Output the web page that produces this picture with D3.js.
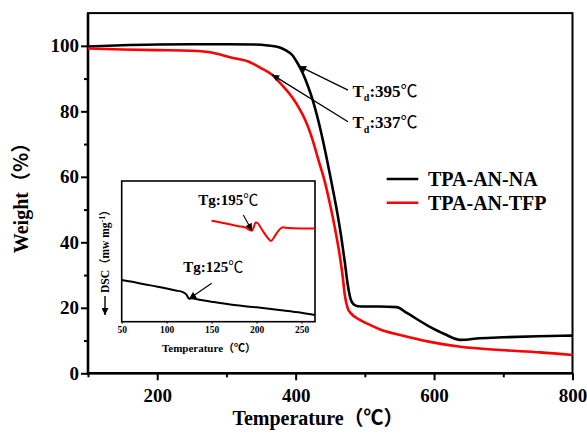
<!DOCTYPE html>
<html>
<head>
<meta charset="utf-8">
<script src="https://cdn.jsdelivr.net/npm/d3@7"></script>
<style>
  html, body { margin: 0; padding: 0; background: #fff; }
  svg { display: block; }
  text { font-family: "Liberation Serif", "Times New Roman", serif; font-weight: bold; fill: #000; }
  .cjk { font-family: "Noto Sans CJK SC", "Liberation Serif", serif; }
</style>
</head>
<body>
<svg id="chart" width="587" height="437"></svg>
<script>
// TGA curves: temperature (°C) and remaining weight (%)
const tempNA = [100,150,200,250,300,340,360,377,386,395,402,410,418,425,431,437,443,449,455,461,466,471,475,479,484,490,500,520,546,560,594,615,638,666,700,750,800];
const weightNA = [99.8,100.2,100.4,100.5,100.5,100.4,100.1,99.5,98.6,97.2,95.0,91.8,87.6,83.2,78.6,73.4,67.6,61.3,54.8,48.0,41.5,34.0,27.5,23.0,21.0,20.5,20.4,20.4,20.2,18.5,14.2,12.0,10.2,10.7,11.0,11.3,11.5];
const tempTFP = [100,150,200,250,280,305,334,349,366,382,395,406,414,421,427,432,437,442,450,457,464,468,471,475,480,493,508,522,551,594,638,695,753,800];
const weightTFP = [99.2,98.9,98.7,98.5,97.9,96.5,95.0,93.3,91.2,87.6,84.3,80.6,77.3,73.5,69.5,65.8,62.3,58.6,51.3,44.0,35.6,29.5,24.0,20.0,18.3,16.3,14.7,13.4,11.7,9.6,8.1,7.1,6.4,5.6];

// DSC traces (heat flow, arbitrary units)
const dscTempNA = [50,60,75,90,100,110,118,122,125,128,135,150,175,200,225,250,265];
const dscNA = [29.6,28.5,26.6,24.9,23.6,22.2,21.0,19.2,16.3,16.6,15.8,14.2,11.8,10.2,8.3,6.3,4.7];
const dscTempTFP = [150,160,170,180,188,193,195,197,199,201,204,208,212,216,219,223,227,230,232,240,265];
const dscTFP = [71.8,70.5,69.2,67.9,66.9,65.0,64.7,67.5,70.5,70.2,67.5,63.5,60.0,57.3,59.5,63.5,66.4,67.1,66.8,66.5,66.3];

// Series names and colours
const seriesNames = ["TPA-AN-NA", "TPA-AN-TFP"];
const seriesColors = ["#000000", "#ff0000"];

// Tick values
const xMajor = [200,400,600,800];
const xMinor = [100,300,500,700];
const yMajor = [0,20,40,60,80,100];
const yMinor = [10,30,50,70,90];
const insetXTicks = [50,100,150,200,250];

// Decomposition temperatures and where their pointers meet the curves
const tdLabels = ["395", "337"];
const tdPointerTemp = [405, 366];
// Glass transition temperatures
const tgValues = [125, 195];

const svg = d3.select("#chart");

const x = d3.scaleLinear().domain([100, 800]).range([88, 572.5]);
const y = d3.scaleLinear().domain([0, 110]).range([373.3, 13.1]);

// arrowhead marker
svg.append("defs").append("marker")
  .attr("id", "arrow")
  .attr("viewBox", "0 0 10 10")
  .attr("refX", 10).attr("refY", 5)
  .attr("markerWidth", 8).attr("markerHeight", 7)
  .attr("markerUnits", "userSpaceOnUse")
  .attr("orient", "auto")
  .append("path").attr("d", "M0,0 L10,5 L0,10 Z").attr("fill", "#000");

// axes
const xAxis = svg.append("g").attr("transform", `translate(0,${y(0)})`)
  .call(d3.axisBottom(x).tickValues(xMajor).tickSize(7).tickPadding(8).tickFormat(d3.format("d")));
const xAxisMinor = svg.append("g").attr("transform", `translate(0,${y(0)})`)
  .call(d3.axisBottom(x).tickValues(xMinor).tickSize(4).tickFormat(""));
const yAxis = svg.append("g").attr("transform", `translate(${x(100)},0)`)
  .call(d3.axisLeft(y).tickValues(yMajor).tickSize(7).tickPadding(2).tickFormat(d3.format("d")));
const yAxisMinor = svg.append("g").attr("transform", `translate(${x(100)},0)`)
  .call(d3.axisLeft(y).tickValues(yMinor).tickSize(4).tickFormat(""));

[xAxis, xAxisMinor, yAxis, yAxisMinor].forEach(g => {
  g.select(".domain").remove();
  g.selectAll(".tick line").attr("stroke", "#000").attr("stroke-width", 2);
  g.selectAll(".tick text").attr("font-size", 19).attr("font-family", "Liberation Serif").attr("font-weight", "bold");
});

// frame
svg.append("rect")
  .attr("x", x(100)).attr("y", y(110))
  .attr("width", x(800) - x(100)).attr("height", y(0) - y(110))
  .attr("fill", "none").attr("stroke", "#000").attr("stroke-width", 2);
svg.append("path")
  .attr("d", `M${x(100)},${y(110)} V${y(0)} H${x(800)}`)
  .attr("fill", "none").attr("stroke", "#000").attr("stroke-width", 2.6);

// axis titles
const xTitle = svg.append("text").attr("x", 318).attr("y", 425)
  .attr("text-anchor", "middle").attr("font-size", 20);
xTitle.append("tspan").text("Temperature");
xTitle.append("tspan").attr("class", "cjk").text("（℃）");

const yTitle = svg.append("text")
  .attr("transform", "translate(28,193) rotate(-90)")
  .attr("text-anchor", "middle").attr("font-size", 20);
yTitle.append("tspan").text("Weight");
yTitle.append("tspan").attr("class", "cjk").text("（%）");

// TGA curves
const line = d3.line().x(d => x(d[0])).y(d => y(d[1])).curve(d3.curveMonotoneX);
const naPts = tempNA.map((t, i) => [t, weightNA[i]]);
const tfpPts = tempTFP.map((t, i) => [t, weightTFP[i]]);

svg.append("path").datum(naPts).attr("d", line)
  .attr("fill", "none").attr("stroke", seriesColors[0]).attr("stroke-width", 2.6);
svg.append("path").datum(tfpPts).attr("d", line)
  .attr("fill", "none").attr("stroke", seriesColors[1]).attr("stroke-width", 2.6);

// Td pointers and labels
const interp = (ts, vs, t) => {
  const i = d3.bisectLeft(ts, t);
  if (i <= 0) return vs[0];
  if (i >= ts.length) return vs[vs.length - 1];
  const f = (t - ts[i - 1]) / (ts[i] - ts[i - 1]);
  return vs[i - 1] + f * (vs[i] - vs[i - 1]);
};
const tdCurves = [[tempNA, weightNA], [tempTFP, weightTFP]];
const tdLabelY = [96.7, 128.3];
tdLabels.forEach((lab, i) => {
  const tipT = tdPointerTemp[i];
  const tipW = interp(tdCurves[i][0], tdCurves[i][1], tipT);
  svg.append("line")
    .attr("x1", 348).attr("y1", tdLabelY[i] - 6.5)
    .attr("x2", x(tipT)).attr("y2", y(tipW))
    .attr("stroke", "#000").attr("stroke-width", 1.3)
    .attr("marker-end", "url(#arrow)");
  const t = svg.append("text").attr("x", 352.5).attr("y", tdLabelY[i]).attr("font-size", 17);
  t.append("tspan").text("T");
  t.append("tspan").attr("dy", 4.5).attr("font-size", 10).text("d");
  t.append("tspan").attr("dy", -4.5).text(":" + lab);
  t.append("tspan").attr("class", "cjk").attr("font-weight", "normal").text("℃");
});

// legend
const legendY = [179, 202.7];
seriesNames.forEach((name, i) => {
  svg.append("line")
    .attr("x1", 386.7).attr("x2", 418.3)
    .attr("y1", legendY[i]).attr("y2", legendY[i])
    .attr("stroke", seriesColors[i]).attr("stroke-width", 2.6);
  svg.append("text").attr("x", 428).attr("y", legendY[i] + 6.8)
    .attr("font-size", 20).text(name);
});

// ---- DSC inset ----
const ix = d3.scaleLinear().domain([50, 265]).range([121.7, 315]);
const iy = d3.scaleLinear().domain([0, 100]).range([321.7, 181]);

svg.append("rect")
  .attr("x", ix(50)).attr("y", iy(100))
  .attr("width", ix(265) - ix(50)).attr("height", iy(0) - iy(100))
  .attr("fill", "#fff").attr("stroke", "#000").attr("stroke-width", 1.6);

const insetAxis = svg.append("g").attr("transform", `translate(0,${iy(0)})`)
  .call(d3.axisBottom(ix).tickValues(insetXTicks).tickSize(2).tickPadding(3).tickFormat(d3.format("d")));
insetAxis.select(".domain").remove();
insetAxis.selectAll(".tick line").attr("stroke", "#000");
insetAxis.selectAll(".tick text").attr("font-size", 9.5).attr("font-family", "Liberation Serif").attr("font-weight", "bold");

const ixTitle = svg.append("text").attr("x", 209).attr("y", 351.5)
  .attr("text-anchor", "middle").attr("font-size", 11);
ixTitle.append("tspan").text("Temperature");
ixTitle.append("tspan").attr("class", "cjk").text("（℃）");

const iyTitle = svg.append("text")
  .attr("transform", "translate(109,293) rotate(-90)")
  .attr("text-anchor", "start").attr("font-size", 11.5);
iyTitle.append("tspan").text("DSC");
iyTitle.append("tspan").attr("class", "cjk").text("（");
iyTitle.append("tspan").text("mw mg");
iyTitle.append("tspan").attr("dy", -4).attr("font-size", 8).text("-1");
iyTitle.append("tspan").attr("dy", 4).attr("class", "cjk").text("）");
svg.append("line")
  .attr("x1", 105).attr("x2", 105).attr("y1", 296).attr("y2", 315)
  .attr("stroke", "#000").attr("stroke-width", 1.4)
  .attr("marker-end", "url(#arrow)");

const iline = d3.line().x(d => ix(d[0])).y(d => iy(d[1])).curve(d3.curveMonotoneX);
const dscNAPts = dscTempNA.map((t, i) => [t, dscNA[i]]);
const dscTFPPts = dscTempTFP.map((t, i) => [t, dscTFP[i]]);
svg.append("path").datum(dscNAPts).attr("d", iline)
  .attr("fill", "none").attr("stroke", seriesColors[0]).attr("stroke-width", 2);
svg.append("path").datum(dscTFPPts).attr("d", iline)
  .attr("fill", "none").attr("stroke", seriesColors[1]).attr("stroke-width", 2);

// Tg pointers and labels
const tgCurves = [[dscTempNA, dscNA], [dscTempTFP, dscTFP]];
const tgLabelPos = [[183.3, 271.7], [198.3, 205]];
const tgTail = [[211.7, 283.3], [243.3, 215]];
tgValues.forEach((tg, i) => {
  const v = interp(tgCurves[i][0], tgCurves[i][1], tg);
  svg.append("line")
    .attr("x1", tgTail[i][0]).attr("y1", tgTail[i][1])
    .attr("x2", ix(tg)).attr("y2", iy(v))
    .attr("stroke", "#000").attr("stroke-width", 1.1)
    .attr("marker-end", "url(#arrow)");
  const t = svg.append("text").attr("x", tgLabelPos[i][0]).attr("y", tgLabelPos[i][1]).attr("font-size", 15);
  t.append("tspan").text("Tg:" + tg);
  t.append("tspan").attr("class", "cjk").attr("font-weight", "normal").text("℃");
});
</script>
</body>
</html>
